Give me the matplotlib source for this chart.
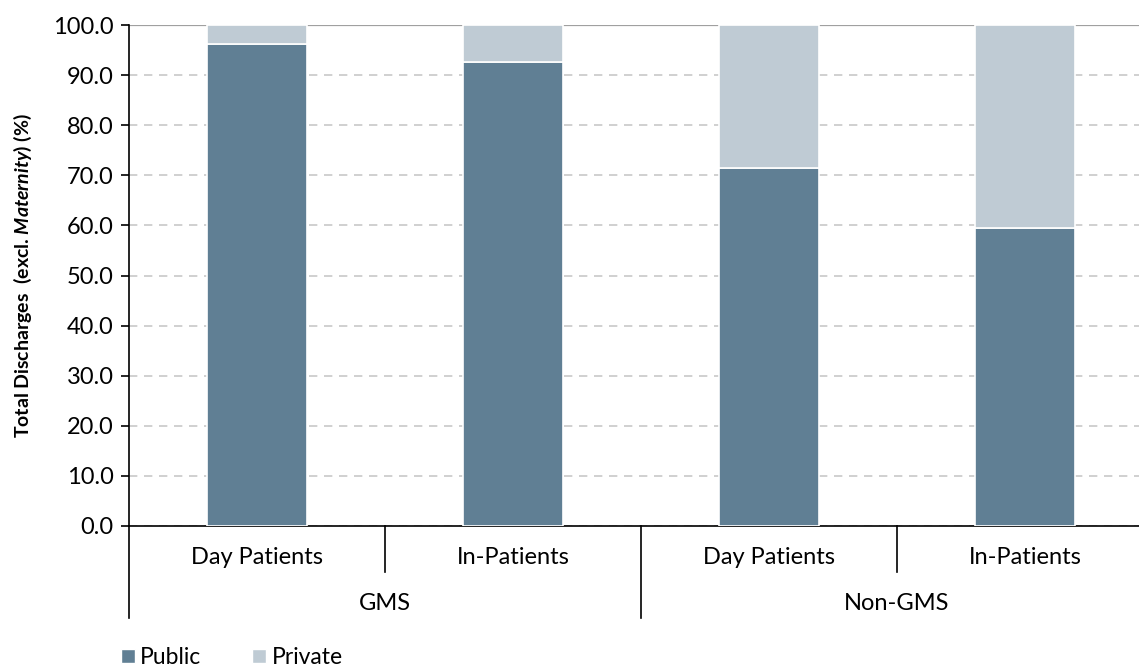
import matplotlib
matplotlib.use("Agg")
import matplotlib.pyplot as plt
import matplotlib.patches as mpatches
import matplotlib.transforms as mtransforms
import numpy as np

groups = ["GMS", "Non-GMS"]
subcats = ["Day Patients", "In-Patients", "Day Patients", "In-Patients"]
public = [96.2, 92.7, 71.4, 59.5]
private = [3.8, 7.3, 28.6, 40.5]
yticks = [0, 10, 20, 30, 40, 50, 60, 70, 80, 90, 100]

FONT = "Lato"
plt.rcParams['font.family'] = [FONT, 'DejaVu Sans']
plt.rcParams['mathtext.fontset'] = 'custom'
plt.rcParams['mathtext.bf'] = FONT + ':bold'
plt.rcParams['mathtext.it'] = FONT + ':italic'
plt.rcParams['mathtext.bfit'] = FONT + ':bold:italic'

c_pub = "#607f94"
c_priv = "#bfcbd4"

fig = plt.figure(figsize=(11.39, 6.66), dpi=100)
ax = fig.add_axes([129/1139, (666-526)/666, 1024/1139, 501/666])

x = np.arange(len(subcats))
ax.bar(x, public, width=0.39, color=c_pub, edgecolor="white", linewidth=1.2, zorder=3)
ax.bar(x, private, width=0.39, bottom=public, color=c_priv, edgecolor="white", linewidth=1.2, zorder=3)

ax.set_xlim(-0.5, 3.5)
ax.set_ylim(0, 100)
ax.set_yticks(yticks)
ax.set_yticklabels([f"{v:.1f}" for v in yticks], fontsize=17)
ax.yaxis.grid(True, linestyle=(0, (5, 4)), color="#c8c8c8", linewidth=1.2, zorder=0)
ax.axhline(100, color="#a0a0a0", linewidth=1.6, zorder=1)
ax.set_axisbelow(True)

for s in ["top", "right"]:
    ax.spines[s].set_visible(False)
ax.spines["left"].set_color("black")
ax.spines["left"].set_linewidth(1.2)
ax.spines["bottom"].set_color("black")
ax.spines["bottom"].set_linewidth(1.2)
ax.tick_params(axis="y", direction="out", length=6, width=1.2, color="black", pad=5)
ax.set_xticks([])

ax.set_ylabel(r"Total Discharges  (excl. $\mathbfit{Maternity}$) (%)", fontsize=14,
              fontweight="bold", labelpad=14)

trans = mtransforms.blended_transform_factory(ax.transData, ax.transAxes)
for xs in [0.5, 2.5]:
    ax.plot([xs, xs], [0, -0.092], transform=trans, color="black", lw=1.2, clip_on=False)
for xs in [-0.5, 1.5, 3.5]:
    ax.plot([xs, xs], [0, -0.184], transform=trans, color="black", lw=1.2, clip_on=False)

for xi, lab in zip(x, subcats):
    ax.text(xi, -0.063, lab, transform=trans, ha="center", va="center", fontsize=17)
for gi, g in enumerate(groups):
    ax.text(gi * 2 + 0.5, -0.155, g, transform=trans, ha="center", va="center", fontsize=17)

handles = [mpatches.Patch(facecolor=c_pub, edgecolor="white", label="Public"),
           mpatches.Patch(facecolor=c_priv, edgecolor="white", label="Private")]
fig.legend(handles=handles, loc="lower left", bbox_to_anchor=(0.088, -0.034), ncol=2,
           frameon=False, fontsize=16.5, handlelength=0.6, handleheight=0.6,
           handletextpad=0.25, columnspacing=2.2)

fig.savefig("out.png", dpi=100)
